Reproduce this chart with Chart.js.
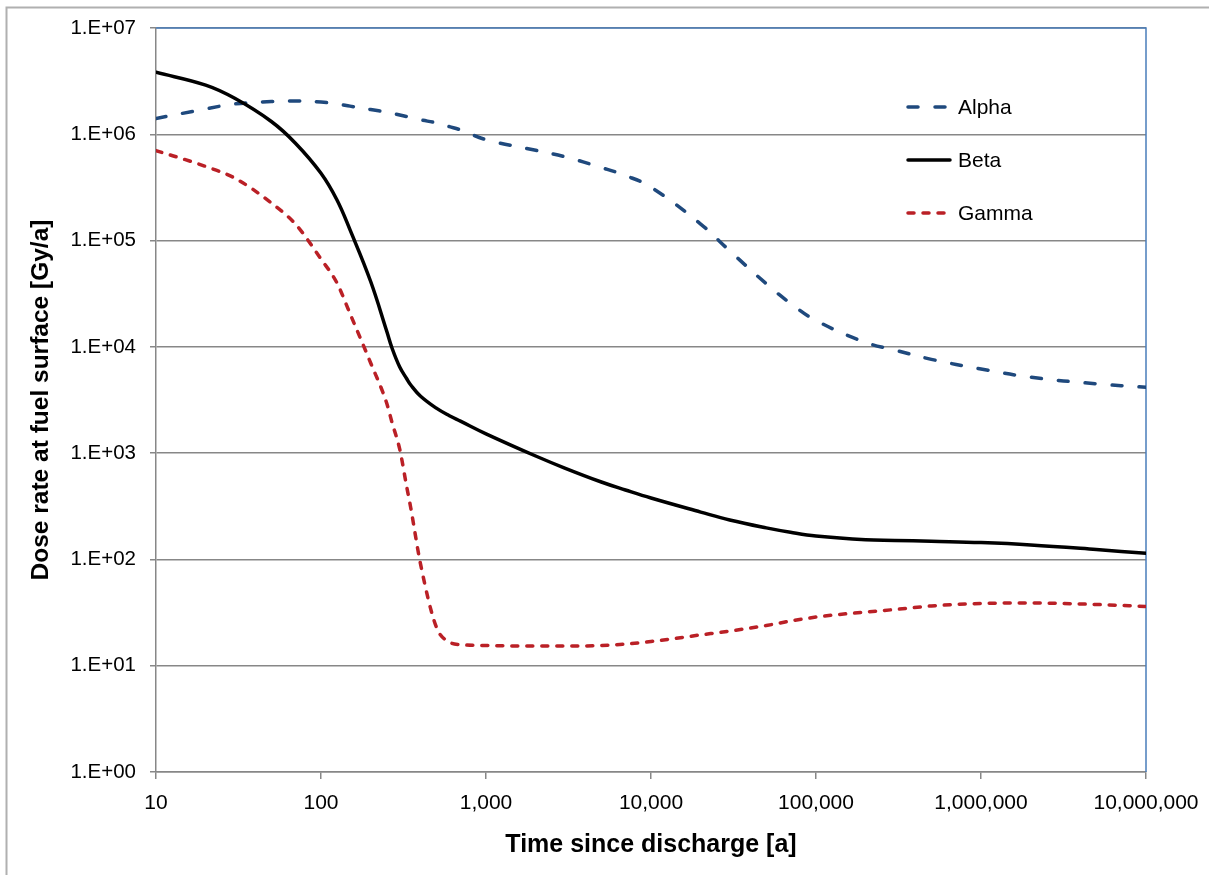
<!DOCTYPE html>
<html><head><meta charset="utf-8">
<script src="https://cdn.jsdelivr.net/npm/chart.js@4.4.1/dist/chart.umd.min.js"></script>
<style>html,body{margin:0;padding:0;background:#fff;overflow:hidden}
#wrap{position:absolute;left:0;top:0;width:1209px;height:875px}</style>
</head><body><div id="wrap"><canvas id="c" width="1209" height="875" style="width:1209px;height:875px"></canvas></div>
<script>
const time  = [10, 20, 30, 50, 70, 100, 125, 150, 200, 250, 270, 300, 330, 350, 400, 500, 600, 700, 1000, 2000, 3000, 5000, 7000, 1e4, 2e4, 3e4, 5e4, 7e4, 1e5, 2e5, 3e5, 5e5, 1e6, 2e6, 5e6, 1e7];
const alpha = [1.41e6, 1.73e6, 1.93e6, 2.03e6, 2.06e6, 2.01e6, 1.93e6, 1.84e6, 1.71e6, 1.62e6, 1.58e6, 1.52e6, 1.47e6, 1.44e6, 1.37e6, 1.28e6, 1.18e6, 1.10e6, 8.9e5, 7.07e5, 6.15e5, 4.87e5, 4.09e5, 3.18e5, 1.43e5, 8.0e4, 3.92e4, 2.57e4, 1.77e4, 1.10e4, 9.34e3, 7.63e3, 6.19e3, 5.18e3, 4.49e3, 4.16e3];
const beta  = [3.83e6, 2.90e6, 2.18e6, 1.32e6, 8.25e5, 4.3e5, 2.41e5, 1.26e5, 4.12e4, 1.41e4, 9.65e3, 6.46e3, 5.04e3, 4.38e3, 3.45e3, 2.65e3, 2.25e3, 2.0e3, 1.52e3, 940, 724, 535, 450, 378, 279, 235, 198, 180, 166, 153, 151, 148, 144, 137, 124, 114];
const gamma = [7.03e5, 4.98e5, 3.87e5, 2.26e5, 1.43e5, 6.7e4, 3.99e4, 2.05e4, 7.05e3, 2.96e3, 1.92e3, 1.09e3, 491, 305, 92.5, 23.1, 16.7, 15.8, 15.5, 15.3, 15.3, 15.5, 16.0, 16.9, 19.5, 21.2, 23.9, 26.3, 28.7, 32, 33.8, 36.5, 38.5, 38.9, 37.7, 36.1];
const seriesNames = ['Alpha', 'Beta', 'Gamma'];
const xTickValues = [10, 100, 1000, 1e4, 1e5, 1e6, 1e7];
const xTickLabels = ['10', '100', '1,000', '10,000', '100,000', '1,000,000', '10,000,000'];
const yTickValues = [1, 10, 100, 1e3, 1e4, 1e5, 1e6, 1e7];
const yTickLabels = ['1.E+00', '1.E+01', '1.E+02', '1.E+03', '1.E+04', '1.E+05', '1.E+06', '1.E+07'];
const xTitle = 'Time since discharge [a]';
const yTitle = 'Dose rate at fuel surface [Gy/a]';

const FONT = "'Liberation Sans', Arial, sans-serif";
const GRAY = '#878787';
const toPts = arr => time.map((t, i) => ({x: t, y: arr[i]}));

const framePlugin = {
  id: 'frame',
  beforeDraw(chart) {
    const ctx = chart.ctx;
    ctx.save();
    ctx.fillStyle = '#fff';
    ctx.fillRect(0, 0, chart.width, chart.height);
    ctx.strokeStyle = '#b0b0b0';
    ctx.lineWidth = 2;
    ctx.strokeRect(6.5, 7.5, 1400, 1000);
    ctx.restore();
  }
};
const plotBorderPlugin = {
  id: 'plotBorder',
  beforeDatasetsDraw(chart) {
    const {ctx, chartArea: a} = chart;
    ctx.save();
    ctx.strokeStyle = '#4A7EBB';
    ctx.lineWidth = 1.5;
    ctx.beginPath();
    ctx.moveTo(a.left, a.top);
    ctx.lineTo(a.right, a.top);
    ctx.lineTo(a.right, a.bottom);
    ctx.stroke();
    ctx.restore();
  }
};
const legendPlugin = {
  id: 'customLegend',
  afterDraw(chart) {
    const ctx = chart.ctx;
    const ys = [107, 160, 213];
    ctx.save();
    chart.data.datasets.forEach((ds, i) => {
      const y = ys[i];
      ctx.strokeStyle = ds.borderColor;
      ctx.lineWidth = ds.borderWidth;
      ctx.lineCap = 'round';
      ctx.setLineDash(ds.borderDash || []);
      ctx.beginPath();
      ctx.moveTo(908, y);
      ctx.lineTo(950, y);
      ctx.stroke();
      ctx.setLineDash([]);
      ctx.fillStyle = '#000';
      ctx.font = '21px ' + FONT;
      ctx.textBaseline = 'middle';
      ctx.textAlign = 'left';
      ctx.fillText(ds.label, 958, y + 1);
    });
    ctx.restore();
  }
};

const common = {pointRadius: 0, borderWidth: 3.5, fill: false, borderCapStyle: 'round', borderJoinStyle: 'round'};

new Chart(document.getElementById('c'), {
  type: 'line',
  data: {
    datasets: [
      Object.assign({label: seriesNames[0], data: toPts(alpha), borderColor: '#1F497D', borderDash: [10, 17], order: 1, tension: 0.4, cubicInterpolationMode: 'default'}, common),
      Object.assign({label: seriesNames[1], data: toPts(beta), borderColor: '#000000', order: 0, tension: 0.4, cubicInterpolationMode: 'default'}, common),
      Object.assign({label: seriesNames[2], data: toPts(gamma), borderColor: '#BA2026', borderDash: [6, 9], order: 2, cubicInterpolationMode: 'monotone'}, common)
    ]
  },
  options: {
    responsive: false,
    animation: false,
    devicePixelRatio: 1,
    layout: {padding: {left: 0, right: 63, top: 28, bottom: 0}},
    plugins: {legend: {display: false}, tooltip: {enabled: false}},
    scales: {
      x: {
        type: 'logarithmic', position: 'bottom', min: 10, max: 1e7,
        afterBuildTicks: s => { s.ticks = xTickValues.map(v => ({value: v})); },
        afterFit: s => { s.height = 103; s.paddingLeft = 0; s.paddingRight = 0; },
        ticks: {
          autoSkip: false, maxRotation: 0, minRotation: 0, padding: 12, color: '#000',
          font: {family: FONT, size: 21},
          callback: v => xTickLabels[xTickValues.indexOf(v)]
        },
        grid: {drawOnChartArea: false, drawTicks: true, tickLength: 7, color: GRAY, lineWidth: 1.5},
        border: {color: GRAY, width: 1.5},
        title: {display: true, text: xTitle, color: '#000', font: {family: FONT, size: 25, weight: 'bold'}, padding: {top: 0, bottom: 15}}
      },
      y: {
        type: 'logarithmic', position: 'left', min: 1, max: 1e7,
        afterBuildTicks: s => { s.ticks = yTickValues.map(v => ({value: v})); },
        afterFit: s => { s.width = 156; s.paddingTop = 0; s.paddingBottom = 0; },
        ticks: {
          autoSkip: false, padding: 14, color: '#000',
          font: {family: FONT, size: 20.5},
          callback: v => yTickLabels[yTickValues.indexOf(v)]
        },
        grid: {drawOnChartArea: true, drawTicks: true, tickLength: 6, color: GRAY, lineWidth: 1.5},
        border: {color: GRAY, width: 1.5},
        title: {display: true, text: yTitle, color: '#000', font: {family: FONT, size: 24.5, weight: 'bold'}, padding: {top: 27, bottom: 0}}
      }
    }
  },
  plugins: [framePlugin, plotBorderPlugin, legendPlugin]
});
</script>
</body></html>
